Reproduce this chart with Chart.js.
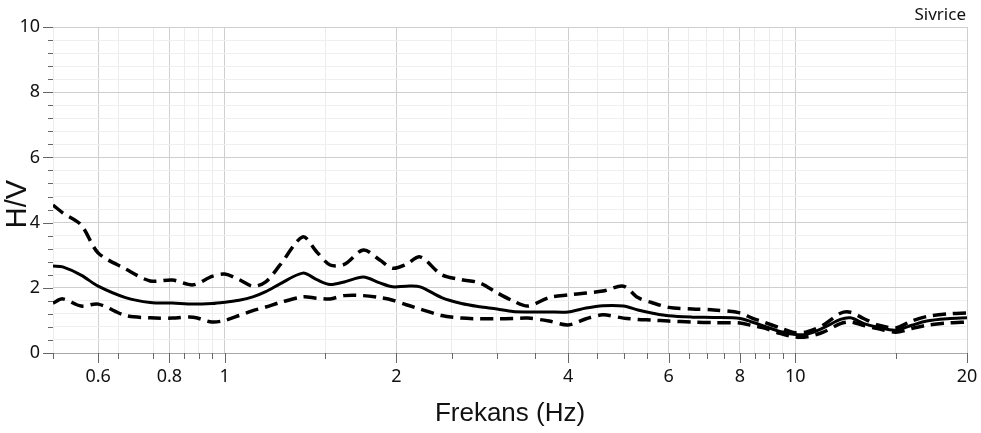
<!DOCTYPE html>
<html>
<head>
<meta charset="utf-8">
<script src="https://cdn.jsdelivr.net/npm/chart.js@4.4.1/dist/chart.umd.min.js"></script>
<style>
  html, body { margin: 0; padding: 0; background: #fff; }
  #wrap { width: 981px; height: 433px; }
</style>
</head>
<body>
<div id="wrap"><canvas id="hvChart" width="981" height="433"></canvas></div>
<script>
// H/V spectral ratio - Sivrice
const freqs = [0.5, 0.52, 0.56, 0.6, 0.67, 0.74, 0.81, 0.88, 0.95, 1.0, 1.06, 1.12, 1.18, 1.25, 1.37, 1.45, 1.53, 1.62, 1.75, 1.87, 1.97, 2.08, 2.2, 2.4, 2.6, 2.8, 3.0, 3.2, 3.4, 3.7, 4.0, 4.3, 4.6, 5.0, 5.3, 5.6, 6.0, 6.6, 7.2, 8.0, 8.4, 8.8, 9.4, 10.0, 10.5, 11.2, 12.0, 12.5, 13.2, 14.0, 15.0, 16.0, 17.0, 18.5, 20];
const hvMean = [2.67, 2.64, 2.39, 2.05, 1.7, 1.55, 1.53, 1.5, 1.52, 1.56, 1.62, 1.72, 1.88, 2.12, 2.45, 2.25, 2.1, 2.18, 2.33, 2.15, 2.03, 2.05, 2.03, 1.7, 1.52, 1.42, 1.35, 1.27, 1.26, 1.26, 1.26, 1.38, 1.45, 1.44, 1.32, 1.23, 1.14, 1.1, 1.09, 1.06, 0.95, 0.83, 0.66, 0.57, 0.58, 0.77, 1.03, 1.08, 0.9, 0.78, 0.7, 0.85, 0.98, 1.05, 1.08];
const hvUpper = [4.54, 4.3, 3.93, 3.07, 2.58, 2.21, 2.24, 2.09, 2.35, 2.42, 2.25, 2.05, 2.18, 2.7, 3.56, 3.1, 2.7, 2.72, 3.16, 2.85, 2.6, 2.72, 2.95, 2.4, 2.25, 2.15, 1.85, 1.6, 1.44, 1.7, 1.78, 1.84, 1.9, 2.05, 1.7, 1.55, 1.4, 1.35, 1.32, 1.23, 1.07, 0.95, 0.77, 0.62, 0.65, 0.86, 1.22, 1.25, 1.05, 0.85, 0.77, 0.98, 1.12, 1.2, 1.23];
const hvLower = [1.53, 1.66, 1.44, 1.5, 1.15, 1.08, 1.07, 1.1, 0.95, 1.0, 1.15, 1.3, 1.41, 1.55, 1.72, 1.68, 1.66, 1.76, 1.76, 1.7, 1.62, 1.48, 1.35, 1.15, 1.07, 1.05, 1.05, 1.06, 1.07, 0.98, 0.86, 1.05, 1.17, 1.07, 1.03, 1.01, 0.98, 0.95, 0.93, 0.92, 0.84, 0.77, 0.6, 0.49, 0.5, 0.64, 0.9, 0.95, 0.84, 0.74, 0.64, 0.75, 0.85, 0.92, 0.95];

const xTicks = [0.5, 0.6, 0.65, 0.75, 0.8, 0.85, 0.9, 0.95, 1, 1.5, 2, 2.5, 3, 3.5, 4, 4.5, 5, 5.5, 6, 6.5, 7, 7.5, 8, 8.5, 9, 9.5, 10, 15, 20];
const xLabels = [0.6, 0.8, 1, 2, 4, 6, 8, 10, 20];
const yTicks = [0, 0.4, 0.8, 1.2, 1.6, 2, 2.4, 2.8, 3.2, 3.6, 4, 4.4, 4.8, 5.2, 5.6, 6, 6.4, 6.8, 7.2, 7.6, 8, 8.4, 8.8, 9.2, 9.6, 10];
const yLabels = [0, 2, 4, 6, 8, 10];

const toPoints = (vals) => freqs.map((f, i) => ({ x: f, y: vals[i] }));

// extra marks: tick marks, y title, station name
const decorations = {
  id: 'decorations',
  afterDraw(chart) {
    const { ctx, chartArea: a, scales: { x, y } } = chart;
    ctx.save();
    ctx.strokeStyle = '#666';
    ctx.lineWidth = 1;
    ctx.beginPath();
    xTicks.forEach(v => {
      const px = Math.round(x.getPixelForValue(v)) + 0.5;
      const len = xLabels.includes(v) ? 10 : 6;
      ctx.moveTo(px, a.bottom);
      ctx.lineTo(px, a.bottom + len);
    });
    yTicks.forEach(v => {
      const py = Math.round(y.getPixelForValue(v)) + 0.5;
      const len = yLabels.includes(v) ? 10 : 5;
      ctx.moveTo(a.left - len, py);
      ctx.lineTo(a.left, py);
    });
    ctx.stroke();

    ctx.fillStyle = '#111';
    ctx.textAlign = 'right';
    ctx.textBaseline = 'middle';
    ctx.font = '17px "Noto Sans"';
    ctx.fillText('Sivrice', 966, 15);

    ctx.translate(18, 204);
    ctx.rotate(-Math.PI / 2);
    ctx.textAlign = 'center';
    ctx.font = '29px "Liberation Sans"';
    ctx.fillText('H/V', 0, 0);
    ctx.restore();
  }
};

const tickFont = { family: 'Noto Sans', size: 18 };

new Chart(document.getElementById('hvChart'), {
  type: 'line',
  data: {
    datasets: [
      { label: 'Ortalama', data: toPoints(hvMean), borderColor: '#000', borderWidth: 3, pointRadius: 0, tension: 0.3 },
      { label: 'Üst', data: toPoints(hvUpper), borderColor: '#000', borderWidth: 3.5, borderDash: [13, 7], pointRadius: 0, tension: 0.3 },
      { label: 'Alt', data: toPoints(hvLower), borderColor: '#000', borderWidth: 3.5, borderDash: [13, 7], pointRadius: 0, tension: 0.3 }
    ]
  },
  options: {
    responsive: false,
    animation: false,
    layout: { padding: { top: 27, right: 14, left: 0, bottom: 0 } },
    plugins: { legend: { display: false }, tooltip: { enabled: false } },
    scales: {
      x: {
        type: 'logarithmic',
        min: 0.5,
        max: 20,
        afterBuildTicks: s => { s.ticks = xTicks.map(v => ({ value: v })); },
        afterFit: s => { s.height = 80; s.paddingRight = 0; s.paddingLeft = 0; },
        grid: {
          drawTicks: false,
          color: c => (c.tick && xLabels.includes(c.tick.value)) ? '#cfcfcf' : '#ececec'
        },
        border: { display: true, color: '#a8a8a8' },
        ticks: {
          autoSkip: false,
          maxRotation: 0,
          padding: 13,
          color: '#111',
          font: tickFont,
          callback: v => xLabels.includes(v) ? String(v) : ''
        },
        title: {
          display: true,
          text: 'Frekans (Hz)',
          color: '#111',
          font: { family: 'Liberation Sans', size: 26 },
          padding: { top: 8, bottom: 4 }
        }
      },
      y: {
        min: 0,
        max: 10,
        afterBuildTicks: s => { s.ticks = yTicks.map(v => ({ value: v })); },
        afterFit: s => { s.width = 53; },
        grid: {
          drawTicks: false,
          color: c => (c.tick && yLabels.includes(c.tick.value)) ? '#cfcfcf' : '#efefef'
        },
        border: { display: false },
        ticks: {
          autoSkip: false,
          padding: 13,
          color: '#111',
          font: tickFont,
          callback: v => yLabels.includes(v) ? String(v) : ''
        }
      }
    }
  },
  plugins: [decorations]
});
</script>
</body>
</html>
